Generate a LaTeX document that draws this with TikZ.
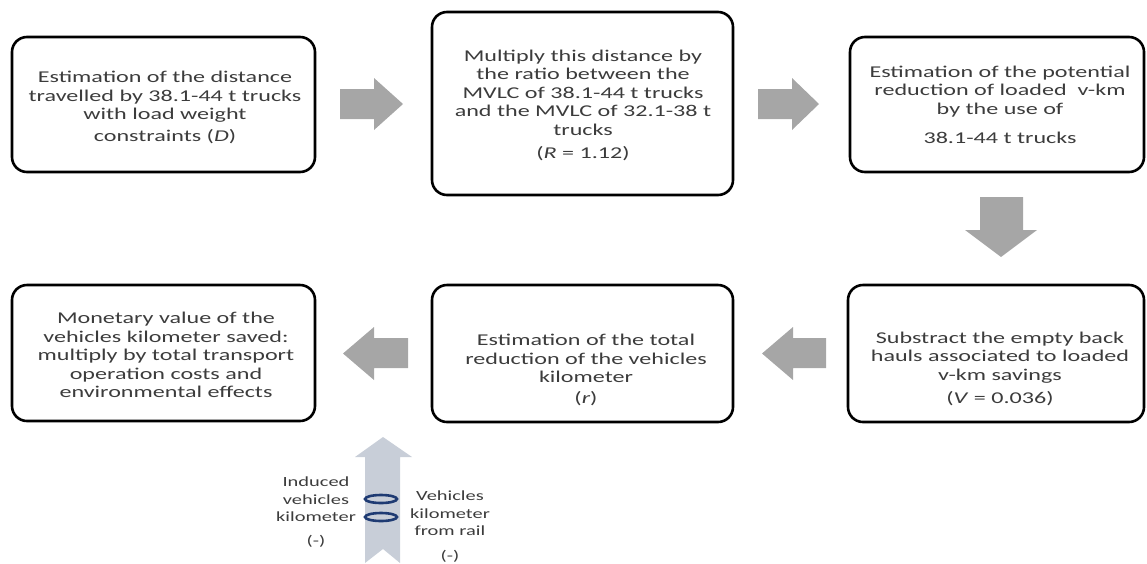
\documentclass[tikz,border=0pt]{standalone}
\usepackage{fontspec}
\setmainfont{Carlito}[FakeStretch=1.46]
\definecolor{arrowgray}{RGB}{166,166,166}
\definecolor{upgray}{RGB}{200,206,216}
\definecolor{ringblue}{RGB}{31,59,115}
\definecolor{txtgray}{RGB}{60,60,60}
\tikzset{
  stepbox/.style={draw=black, line width=2.6pt, rounded corners=15pt, fill=white},
  steptext/.style={align=center, text=txtgray, font=\fontsize{16.5}{18.5}\selectfont, inner sep=0pt},
  sidetext/.style={align=center, text=txtgray, font=\fontsize{14}{17.5}\selectfont, inner sep=0pt},
  blockarrow/.style={fill=arrowgray, draw=none},
  uparrow/.style={fill=upgray, draw=none},
  ring/.style={draw=ringblue, line width=2.6pt},
}
\begin{document}
\begin{tikzpicture}[x=1pt,y=-1pt]
\useasboundingbox (0,0) rectangle (1147,563);

% boxes
\node[stepbox, minimum width=303pt, minimum height=135pt] (b1) at (163.5,104.5) {};
\node[stepbox, minimum width=301pt, minimum height=183pt] (b2) at (582.5,103.5) {};
\node[stepbox, minimum width=294pt, minimum height=135pt] (b3) at (997,104.5) {};
\node[stepbox, minimum width=296pt, minimum height=137pt] (b4) at (996,353.5) {};
\node[stepbox, minimum width=301pt, minimum height=137pt] (b5) at (582.5,353.5) {};
\node[stepbox, minimum width=303pt, minimum height=136pt] (b6) at (163.5,353) {};

% texts
\node[steptext] (t1) at (165,107.5) {Estimation of the distance\\travelled by 38.1-44 t trucks\\with load weight\\[3pt]constraints (\textit{D})};
\node[steptext] (t2) at (583,105) {Multiply this distance by\\the ratio between the\\MVLC of 38.1-44 t trucks\\and the MVLC of 32.1-38 t\\trucks\\[4.5pt](\textit{R} = 1.12)};
\node[steptext] (t3) at (1000,105) {Estimation of the potential\\reduction of loaded\ \ v-km\\by the use of\\[11pt]38.1-44 t trucks};
\node[steptext] (t4) at (1000,368.5) {Substract the empty back\\hauls associated to loaded\\v-km savings\\[4.5pt](\textit{V} = 0.036)};
\node[steptext] (t5) at (586,370) {Estimation of the total\\reduction of the vehicles\\kilometer\\[2.5pt](\textit{r})};
\node[steptext] (t6) at (166,355) {Monetary value of the\\vehicles kilometer saved:\\multiply by total transport\\operation costs and\\environmental effects};

% block arrows
\fill[blockarrow] (340,89) -- (374,89) -- (374,78) -- (403,104) -- (374,130) -- (374,119) -- (340,119) -- cycle;
\fill[blockarrow] (758,89) -- (792,89) -- (792,78) -- (819,104) -- (792,130) -- (792,119) -- (758,119) -- cycle;
\fill[blockarrow] (980,197) -- (1023,197) -- (1023,230) -- (1037,230) -- (1001,257) -- (965,230) -- (980,230) -- cycle;
\fill[blockarrow] (826,338) -- (793,338) -- (793,327) -- (762,353.5) -- (793,380) -- (793,368) -- (826,368) -- cycle;
\fill[blockarrow] (408,338) -- (374,338) -- (374,327) -- (343,353.5) -- (374,380) -- (374,368) -- (408,368) -- cycle;

% upward arrow
\fill[uparrow] (365,563) -- (365,457) -- (355,457) -- (383,437) -- (412,457) -- (400,457) -- (400,563) -- (383,549) -- cycle;
\draw[ring] (381,499) ellipse [x radius=16pt, y radius=4pt];
\draw[ring] (381,517) ellipse [x radius=16pt, y radius=4pt];

\node[sidetext] (l1) at (316,512.5) {Induced\\vehicles\\kilometer\\[6.5pt](-)};
\node[sidetext] (l2) at (450,527) {Vehicles\\kilometer\\from rail\\[7.5pt](-)};
\end{tikzpicture}
\end{document}
